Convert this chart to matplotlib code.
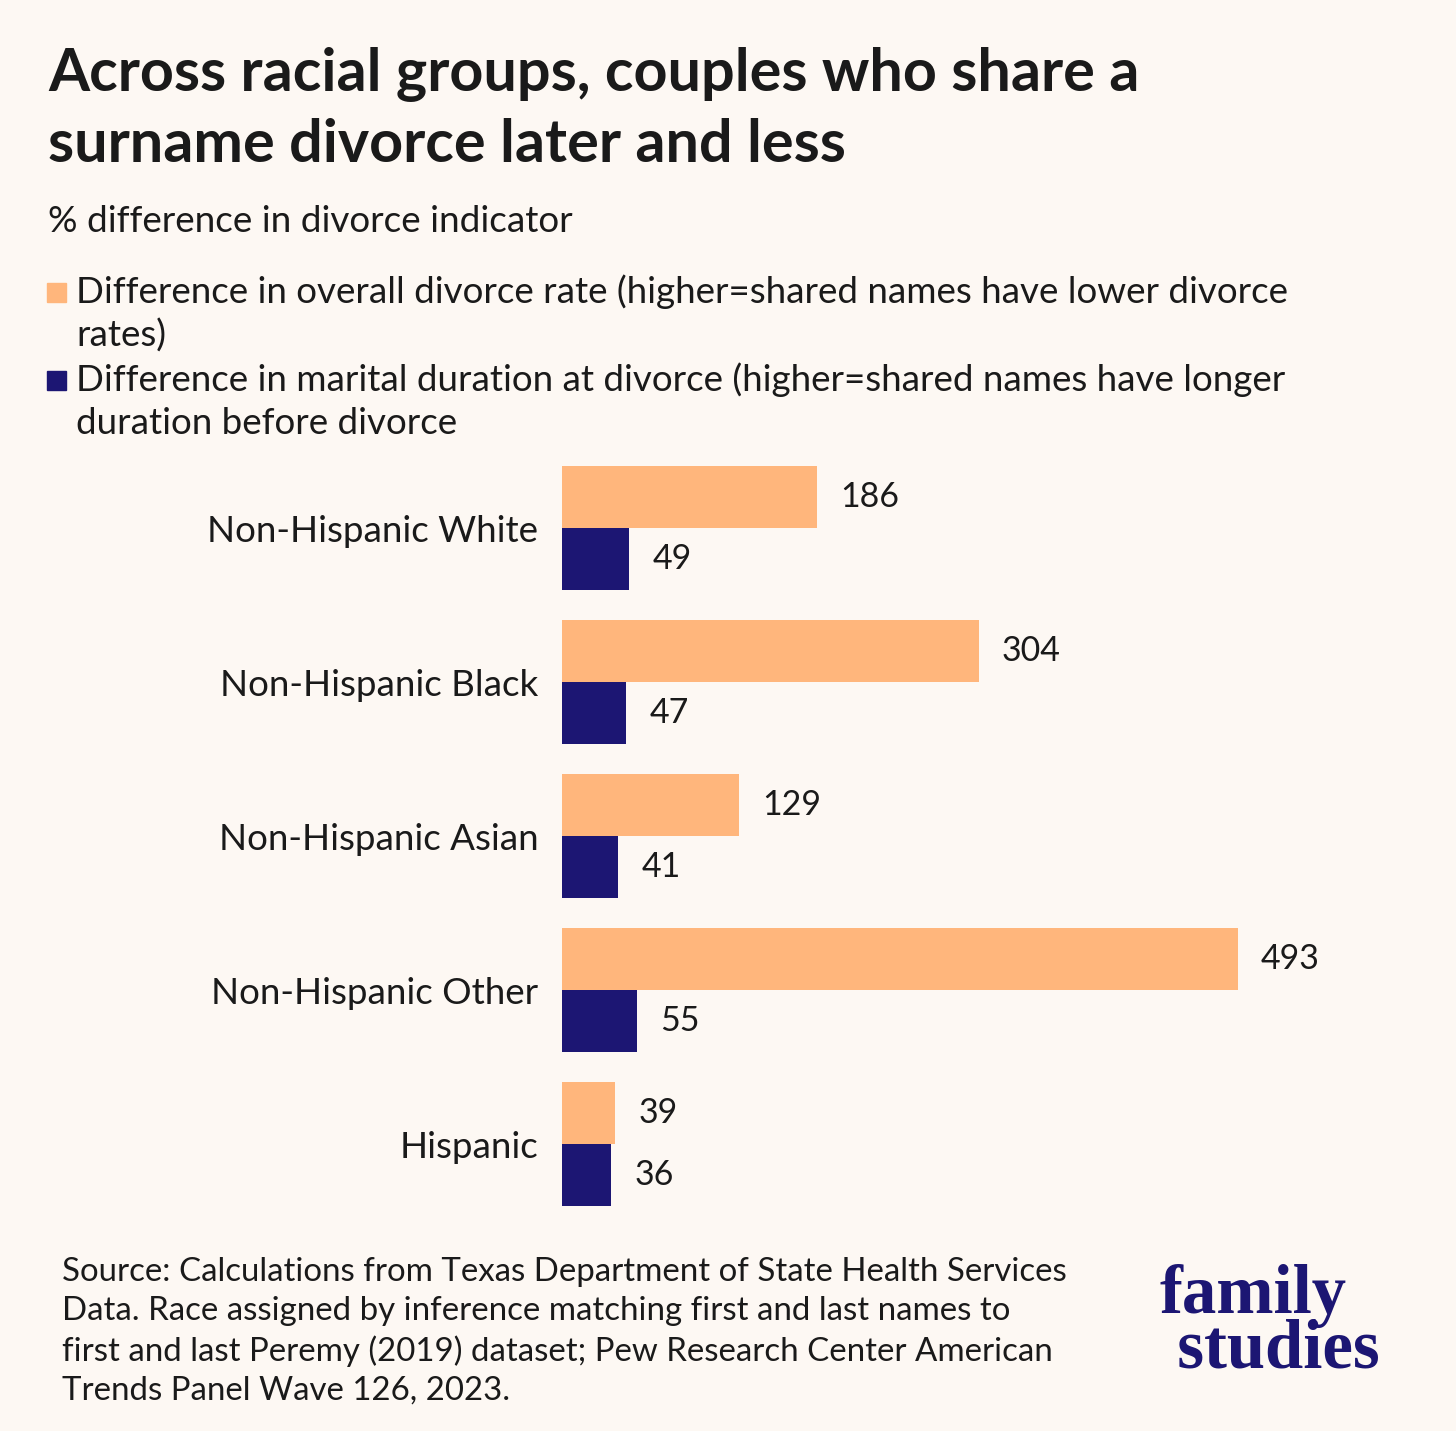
import numpy as np
import matplotlib.pyplot as plt
from matplotlib.patches import Rectangle

# Data
groups = ['Non-Hispanic White', 'Non-Hispanic Black', 'Non-Hispanic Asian',
          'Non-Hispanic Other', 'Hispanic']
divorce_rate = [186, 304, 129, 493, 39]
duration = [49, 47, 41, 55, 36]

legend_rate = ['Difference in overall divorce rate (higher=shared names have lower divorce',
               'rates)']
legend_dur = ['Difference in marital duration at divorce (higher=shared names have longer',
              'duration before divorce']
source_lines = ['Source: Calculations from Texas Department of State Health Services',
                'Data. Race assigned by inference matching first and last names to',
                'first and last Peremy (2019) dataset; Pew Research Center American',
                'Trends Panel Wave 126, 2023.']

bg = '#FDF8F3'
orange = '#FFB67C'
navy = '#1C1673'
txt = '#1a1a1a'
plt.rcParams['font.family'] = ['Lato', 'DejaVu Sans']

W, H = 1456, 1431
fig = plt.figure(figsize=(W / 100, H / 100), dpi=100, facecolor=bg)

def fx(px):
    return px / W

def fy(py):
    return 1 - py / H

# Axes placed so that x=0 is at pixel 562
ax_left, ax_right = 562, 1420
ax_top, ax_bot = 451, 1221
ax = fig.add_axes([fx(ax_left), fy(ax_bot), fx(ax_right - ax_left), (ax_bot - ax_top) / H])
ax.set_facecolor(bg)

y = np.arange(len(groups))
h = 0.4
ax.barh(y - h / 2, divorce_rate, height=h, color=orange)
ax.barh(y + h / 2, duration, height=h, color=navy)

scale = 676 / 493  # px per unit
ax.set_xlim(0, (ax_right - ax_left) / scale)
ax.set_ylim(len(groups) - 0.5, -0.5)

off = 23 / scale
for i in range(len(groups)):
    ax.text(divorce_rate[i] + off, y[i] - h / 2, str(divorce_rate[i]),
            va='center', ha='left', fontsize=24.5, color=txt)
    ax.text(duration[i] + off, y[i] + h / 2, str(duration[i]),
            va='center', ha='left', fontsize=24.5, color=txt)

ax.set_yticks(y)
ax.set_yticklabels(groups, fontsize=26.5, color=txt)
ax.tick_params(axis='y', length=0, pad=17)
ax.set_xticks([])
for s in ax.spines.values():
    s.set_visible(False)

# Title and subtitle
fig.text(fx(48), fy(75), 'Across racial groups, couples who share a', fontsize=42.7,
         fontweight='bold', color=txt, va='center', ha='left')
fig.text(fx(48), fy(145), 'surname divorce later and less', fontsize=42.7,
         fontweight='bold', color=txt, va='center', ha='left')
fig.text(fx(48), fy(222), '% difference in divorce indicator', fontsize=26.6,
         color=txt, va='center', ha='left')

# Legend drawn by hand
def legend_item(color, lines, y0):
    fig.patches.append(Rectangle((fx(47), fy(y0 + 10)), fx(19), 19 / H,
                                 transform=fig.transFigure, color=color))
    for k, line in enumerate(lines):
        fig.text(fx(76), fy(y0 + k * 44), line, fontsize=26.5, color=txt,
                 va='center', ha='left')

legend_item(orange, legend_rate, 292)
legend_item(navy, legend_dur, 380)

# Source
for k, line in enumerate(source_lines):
    fig.text(fx(62), fy(1272 + k * 39.5), line, fontsize=23.8, color=txt,
             va='center', ha='left')

# Logo (one text block, tight leading)
fig.text(fx(1160), fy(1367), 'family\n studies', fontsize=49.5, fontweight='bold',
         color=navy, family='Liberation Serif', va='baseline', ha='left',
         linespacing=0.8)

fig.savefig('out.png', dpi=100, facecolor=bg)
